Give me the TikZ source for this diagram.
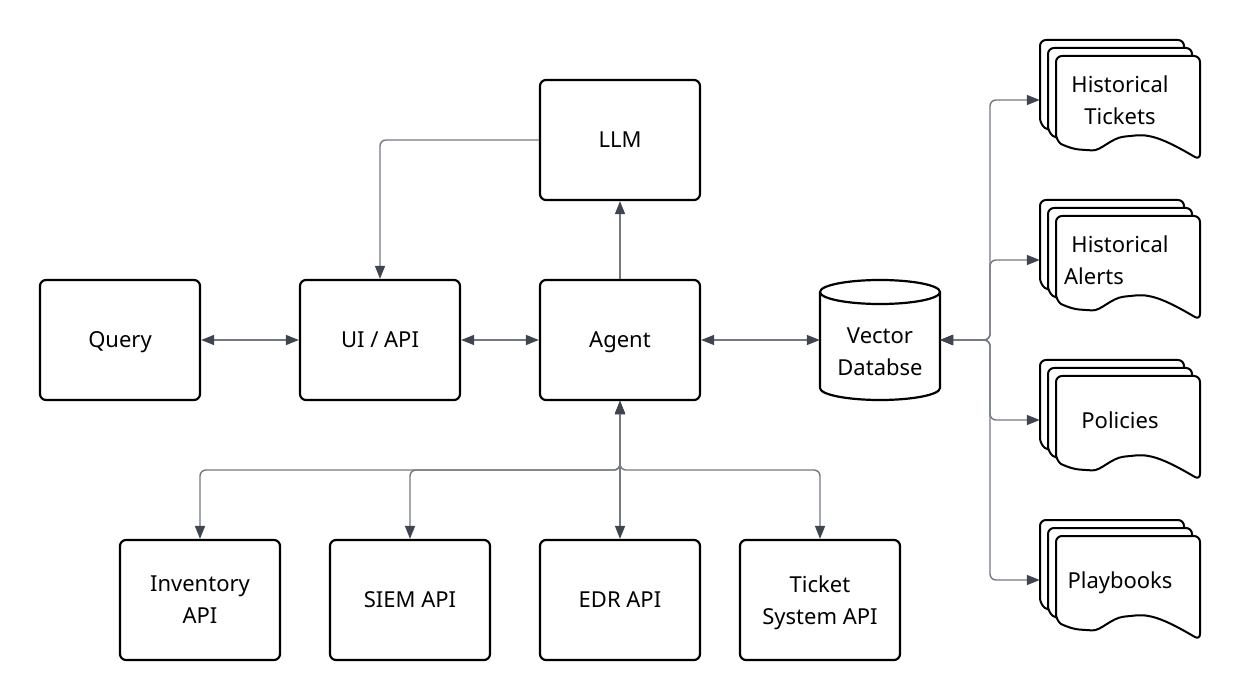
\documentclass[tikz,border=0pt]{standalone}
\usepackage{fontspec}
\setmainfont{Noto Sans}
\usetikzlibrary{arrows.meta}
\definecolor{linec}{HTML}{737881}
\definecolor{tipc}{HTML}{3F4550}

% one sheet of a document stack, top left corner at (#1,#2)
\newcommand{\sheet}[2]{%
  \draw[line width=2pt, fill=white, rounded corners=6pt]
    (#1,#2+40) -- (#1,#2) -- (#1+144,#2) -- (#1+144,#2+104)
    .. controls (#1+110,#2+84) and (#1+95,#2+78) .. (#1+74,#2+80)
    .. controls (#1+55,#2+82) and (#1+45,#2+95) .. (#1+30,#2+94)
    .. controls (#1+15,#2+93) and (#1+5,#2+88) .. (#1,#2+84) -- cycle;}

\begin{document}
\begin{tikzpicture}[x=1pt,y=-1pt,
    >={Triangle[length=13pt,width=10pt,color=tipc]},
    txt/.style={align=center, font=\fontsize{22}{32}\selectfont, inner sep=0pt, text depth=0pt},
    box/.style={txt, draw, line width=2.2pt, rounded corners=6pt,
      minimum width=160pt, minimum height=120pt},
    link/.style={draw=linec, line width=1.4pt, rounded corners=6pt}]
  \useasboundingbox (0,0) rectangle (1240,700);

  % main row
  \node[box] (query) at (120,340) {Query};
  \node[box] (ui) at (380,340) {UI / API};
  \node[box] (agent) at (620,340) {Agent};
  \node[box] (llm) at (620,140) {LLM};

  % tools
  \node[box] (inv) at (200,600) {Inventory\\API};
  \node[box] (siem) at (410,600) {SIEM API};
  \node[box] (edr) at (620,600) {EDR API};
  \node[box] (tick) at (820,600) {Ticket\\System API};

  % vector database
  \node[minimum width=120pt, minimum height=120pt, inner sep=0pt] (db) at (880,340) {};
  \draw[line width=2.2pt, fill=white] (820,292) -- (820,388)
    arc[start angle=180, end angle=0, x radius=60, y radius=12] -- (940,292);
  \draw[line width=2.2pt] (880,292) ellipse [x radius=60, y radius=12];
  \node[txt] (dbtext) at (880,352) {Vector\\Databse};

  % document stacks
  \foreach \y/\name/\label in {40/doca/{Historical\\Tickets},
      200/docb/{Historical\\Alerts\kern52pt}, 360/docc/Policies, 520/docd/Playbooks}{
    \sheet{1040}{\y}
    \sheet{1048}{\y+8}
    \sheet{1056}{\y+16}
    \node[txt, minimum width=160pt, minimum height=120pt] (\name) at (1120,\y+60) {\label};
  }

  % connectors
  \draw[link,<->] (query) -- (ui);
  \draw[link,<->] (ui) -- (agent);
  \draw[link,<->] (agent.east) -- (db.west);
  \draw[link,->] (llm.west) -| (ui.north);
  \draw[link,->] (agent.north) -- (llm.south);

  \coordinate (bus) at (620,470);
  \foreach \b in {inv,siem,tick}
    \draw[link,<->] (agent.south) -- (bus) -| (\b.north);
  \draw[link,<->] (agent.south) -- (edr.north);

  \coordinate (hub) at (990,340);
  \foreach \d in {doca,docb,docc,docd}
    \draw[link,<->] (db.east) -- (hub) |- (\d.west);
\end{tikzpicture}
\end{document}
